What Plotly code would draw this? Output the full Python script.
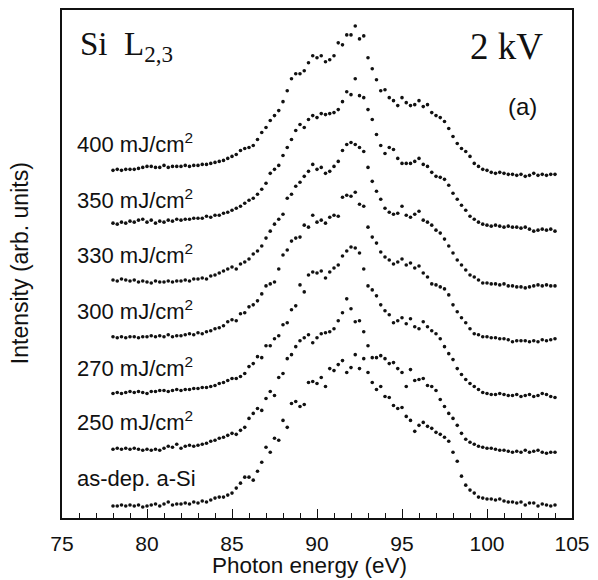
import plotly.graph_objects as go

# Photon energy grid of the spectra (eV)
energy_eV = [
    78.0, 78.25, 78.5, 78.75, 79.0, 79.25, 79.5, 79.75, 80.0, 80.25, 80.5, 80.75,
    81.0, 81.25, 81.5, 81.75, 82.0, 82.25, 82.5, 82.75, 83.0, 83.25, 83.5, 83.75,
    84.0, 84.25, 84.5, 84.75, 85.0, 85.25, 85.5, 85.75, 86.0, 86.25, 86.5, 86.75,
    87.0, 87.25, 87.5, 87.75, 88.0, 88.25, 88.5, 88.75, 89.0, 89.25, 89.5, 89.75,
    90.0, 90.25, 90.5, 90.75, 91.0, 91.25, 91.5, 91.75, 92.0, 92.25, 92.5, 92.75,
    93.0, 93.25, 93.5, 93.75, 94.0, 94.25, 94.5, 94.75, 95.0, 95.25, 95.5, 95.75,
    96.0, 96.25, 96.5, 96.75, 97.0, 97.25, 97.5, 97.75, 98.0, 98.25, 98.5, 98.75,
    99.0, 99.25, 99.5, 99.75, 100.0, 100.25, 100.5, 100.75, 101.0, 101.25, 101.5, 101.75,
    102.0, 102.25, 102.5, 102.75, 103.0, 103.25, 103.5, 103.75, 104.0,
]

# Stacked intensities (arb. units, offset as in the figure)
int_400 = [
    349, 350, 349, 350, 350, 350, 351, 352, 353, 353, 352, 352,
    354, 352, 353, 353, 353, 354, 353, 354, 354, 355, 355, 356,
    357, 358, 359, 361, 363, 365, 369, 371, 372, 374, 380, 387,
    392, 399, 404, 409, 418, 429, 441, 446, 446, 449, 457, 464,
    462, 464, 458, 460, 464, 477, 475, 485, 485, 494, 481, 484,
    462, 451, 440, 429, 430, 422, 419, 414, 422, 417, 414, 415,
    419, 413, 415, 407, 404, 402, 398, 391, 383, 376, 371, 368,
    363, 356, 353, 350, 349, 347, 346, 347, 346, 345, 345, 344,
    345, 343, 344, 346, 344, 345, 344, 345, 345,
]
int_350 = [
    296, 295, 297, 296, 298, 297, 299, 300, 297, 299, 296, 298,
    297, 299, 298, 300, 299, 300, 300, 301, 301, 301, 303, 302,
    304, 304, 306, 307, 309, 311, 313, 316, 319, 321, 325, 330,
    336, 346, 350, 354, 364, 372, 380, 389, 395, 392, 400, 404,
    402, 406, 405, 406, 407, 410, 418, 428, 425, 441, 424, 422,
    410, 400, 385, 374, 366, 372, 370, 361, 356, 356, 356, 358,
    361, 355, 353, 347, 343, 342, 340, 334, 326, 320, 314, 309,
    303, 300, 297, 295, 294, 293, 294, 293, 292, 293, 292, 292,
    291, 292, 290, 288, 289, 290, 289, 290, 288,
]
int_330 = [
    239, 238, 240, 239, 238, 239, 237, 238, 237, 236, 238, 237,
    237, 238, 237, 238, 238, 239, 238, 240, 240, 241, 240, 243,
    244, 246, 248, 250, 252, 250, 255, 257, 260, 265, 268, 273,
    281, 288, 295, 300, 305, 321, 325, 333, 337, 343, 348, 355,
    350, 352, 346, 348, 353, 358, 369, 375, 377, 375, 372, 368,
    352, 338, 328, 320, 311, 307, 305, 306, 313, 304, 302, 305,
    308, 299, 297, 294, 289, 286, 280, 273, 266, 259, 254, 249,
    244, 242, 239, 236, 236, 235, 235, 234, 235, 233, 233, 232,
    232, 231, 232, 233, 234, 233, 234, 233, 233,
]
int_300 = [
    182, 181, 182, 181, 182, 182, 181, 182, 182, 183, 182, 183,
    182, 184, 182, 183, 183, 184, 185, 184, 186, 185, 187, 188,
    190, 191, 193, 197, 199, 198, 205, 206, 212, 214, 218, 225,
    233, 235, 237, 250, 264, 269, 278, 281, 282, 294, 292, 304,
    297, 299, 296, 302, 304, 303, 322, 324, 323, 327, 315, 313,
    292, 282, 276, 267, 262, 259, 255, 257, 260, 254, 256, 251,
    253, 246, 242, 235, 234, 232, 230, 224, 214, 207, 201, 196,
    190, 185, 184, 182, 182, 181, 181, 180, 180, 179, 177, 178,
    178, 178, 177, 178, 177, 179, 178, 179, 180,
]
int_270 = [
    125, 126, 125, 126, 127, 126, 127, 126, 125, 127, 127, 128,
    128, 127, 128, 129, 128, 129, 129, 130, 130, 131, 131, 132,
    133, 135, 136, 138, 140, 140, 142, 145, 152, 155, 162, 161,
    173, 173, 180, 183, 194, 196, 209, 213, 234, 227, 244, 247,
    246, 248, 241, 247, 251, 254, 263, 268, 272, 271, 266, 250,
    233, 229, 223, 214, 208, 204, 196, 198, 201, 195, 200, 192,
    190, 197, 192, 188, 185, 180, 172, 165, 159, 150, 144, 139,
    135, 132, 129, 126, 125, 124, 124, 125, 124, 123, 123, 124,
    122, 123, 124, 122, 123, 125, 124, 122, 121,
]
int_250 = [
    69, 70, 69, 70, 69, 70, 69, 68, 69, 68, 69, 68,
    70, 72, 71, 74, 70, 72, 73, 72, 73, 74, 75, 77,
    78, 80, 81, 83, 85, 84, 88, 91, 100, 105, 110, 108,
    120, 127, 123, 141, 145, 160, 164, 172, 178, 181, 184, 176,
    181, 185, 186, 187, 190, 198, 206, 220, 210, 197, 198, 187,
    173, 161, 161, 163, 160, 155, 156, 150, 146, 132, 149, 138,
    139, 140, 133, 132, 128, 119, 112, 105, 100, 93, 85, 79,
    76, 74, 72, 71, 70, 70, 69, 68, 68, 67, 66, 67,
    66, 68, 66, 67, 68, 66, 65, 66, 66,
]
int_asdep = [
    12, 12, 13, 12, 13, 12, 13, 11, 12, 13, 14, 12,
    14, 16, 13, 14, 14, 15, 14, 16, 15, 17, 16, 18,
    20, 21, 21, 23, 25, 30, 35, 41, 41, 38, 47, 56,
    71, 66, 80, 78, 98, 91, 115, 117, 112, 114, 136, 137,
    135, 141, 132, 150, 148, 154, 158, 146, 151, 164, 150, 160,
    146, 136, 129, 132, 122, 121, 113, 110, 111, 102, 98, 87,
    93, 96, 92, 90, 86, 84, 81, 77, 66, 57, 42, 33,
    28, 25, 21, 20, 19, 19, 18, 19, 17, 16, 16, 15,
    16, 13, 15, 15, 12, 14, 13, 12, 13,
]

series = [int_400, int_350, int_330, int_300, int_270, int_250, int_asdep]
series_labels = ["400 mJ/cm<sup>2</sup>", "350 mJ/cm<sup>2</sup>", "330 mJ/cm<sup>2</sup>",
                 "300 mJ/cm<sup>2</sup>", "270 mJ/cm<sup>2</sup>", "250 mJ/cm<sup>2</sup>",
                 "as-dep. a-Si"]
label_y = [376, 320, 265, 209, 152, 97, 40]

x_ticks = [75, 80, 85, 90, 95, 100, 105]
x_ticktext = ["75", "80", "85", "90", "95", "100", "105"]

SANS = "Liberation Sans, Arial, Helvetica, sans-serif"
SERIF = "Liberation Serif, Times New Roman, serif"
INK = "#111111"

fig = go.Figure()
for vals in series:
    fig.add_trace(go.Scatter(
        x=energy_eV, y=vals, mode="markers",
        marker=dict(size=3.6, color=INK, line=dict(width=0)),
        showlegend=False, hoverinfo="skip",
    ))

annotations = []
for txt, yy in zip(series_labels, label_y):
    annotations.append(dict(x=75.75, y=yy, xref="x", yref="y", text=txt, showarrow=False,
                            xanchor="left", yanchor="middle",
                            font=dict(family=SANS, size=22, color=INK)))

annotations += [
    dict(x=75.95, y=473, xref="x", yref="y", text="Si  L<sub>2,3</sub>", showarrow=False,
         xanchor="left", yanchor="middle", font=dict(family=SERIF, size=33, color=INK)),
    dict(x=103.4, y=473, xref="x", yref="y", text="2 kV", showarrow=False,
         xanchor="right", yanchor="middle", font=dict(family=SERIF, size=37, color=INK)),
    dict(x=102.1, y=413, xref="x", yref="y", text="(a)", showarrow=False,
         xanchor="center", yanchor="middle", font=dict(family=SANS, size=24, color=INK)),
    dict(x=-0.082, y=0.502, xref="paper", yref="paper", text="Intensity (arb. units)",
         showarrow=False, textangle=-90, xanchor="center", yanchor="middle",
         font=dict(family=SANS, size=23, color=INK)),
    dict(x=0.486, y=-0.094, xref="paper", yref="paper", text="Photon energy (eV)",
         showarrow=False, xanchor="center", yanchor="middle",
         font=dict(family=SANS, size=22.5, color=INK)),
]

# The page body adds an 8 px offset, so the figure is sized to fit the window.
fig.update_layout(
    width=590, height=572,
    margin=dict(l=54, r=26, t=0, b=62),
    paper_bgcolor="white", plot_bgcolor="white",
    showlegend=False,
    annotations=annotations,
)
fig.update_xaxes(
    range=[75, 105], tickvals=x_ticks, ticktext=x_ticktext,
    ticks="inside", ticklen=9, tickwidth=1.3, tickcolor=INK,
    showline=True, linewidth=1.6, linecolor=INK, mirror=True,
    showgrid=False, zeroline=False,
    tickfont=dict(family=SANS, size=21, color=INK),
    ticklabelstandoff=6,
    minor=dict(dtick=1, tick0=75, ticks="inside", ticklen=5, tickwidth=1.1,
               tickcolor=INK, showgrid=False),
)
fig.update_yaxes(
    range=[0, 510], showticklabels=False, ticks="",
    showline=True, linewidth=1.6, linecolor=INK, mirror=True,
    showgrid=False, zeroline=False,
)

fig.write_html("out.html")
